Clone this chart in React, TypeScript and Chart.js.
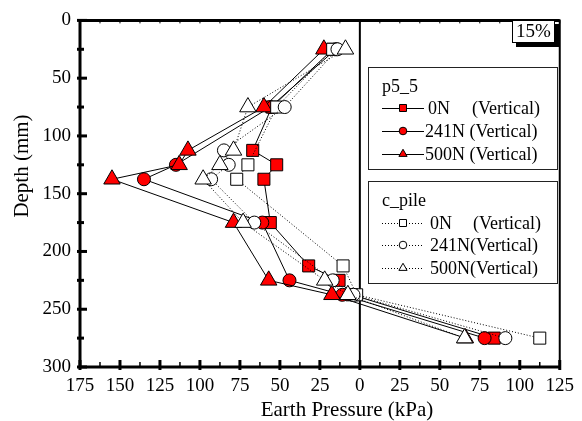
import React, { useEffect, useRef } from 'react';
import { Chart, registerables } from 'chart.js';

Chart.register(...registerables);

// ---- data (x: earth pressure kPa, negative = left side; y: depth mm) ----
const xTicks = [-175, -150, -125, -100, -75, -50, -25, 0, 25, 50, 75, 100, 125];
const yTicks = [0, 50, 100, 150, 200, 250, 300];

const p0Depth = [25, 75, 112.5, 125, 137.5, 175, 212.5, 225, 237.5, 275];
const p0Value = [-17, -55, -67, -52, -60, -56, -32, -13, -5, 84];

const p241Depth = [25, 75, 125, 137.5, 175, 225, 237.5, 275];
const p241Value = [-15, -56, -115, -135, -61, -44, -11, 78];

const p500Depth = [25, 75, 112.5, 125, 137.5, 175, 225, 237.5, 275];
const p500Value = [-22.5, -60, -107.5, -113, -155, -79, -57, -17.5, 66];

const c0Depth = [25, 75, 125, 137.5, 212.5, 237.5, 275];
const c0Value = [-17, -52, -70, -77, -10.5, -2, 112.5];

const c241Depth = [25, 75, 112.5, 125, 137.5, 175, 225, 237.5, 275];
const c241Value = [-14, -47, -85, -82, -93, -66, -17, -4, 91];

const c500Depth = [25, 75, 112.5, 125, 137.5, 175, 225, 237.5, 275];
const c500Value = [-9, -70, -79, -87.5, -98, -73, -22, -7.5, 65.5];

const FONT = '"Liberation Serif", "Times New Roman", serif';

function pts(d: number[], v: number[]) {
  return d.map((dep, i) => ({ x: v[i], y: dep }));
}

function drawMarker(ctx: CanvasRenderingContext2D, style: string, x: number, y: number, fill: string, s: number) {
  ctx.save();
  ctx.fillStyle = fill;
  ctx.strokeStyle = '#000';
  ctx.lineWidth = 1;
  ctx.setLineDash([]);
  ctx.beginPath();
  if (style === 'rect') {
    ctx.rect(x - s, y - s, 2 * s, 2 * s);
  } else if (style === 'circle') {
    ctx.arc(x, y, s, 0, Math.PI * 2);
  } else {
    const r = s * 1.25;
    ctx.moveTo(x, y - r);
    ctx.lineTo(x + r * 0.866, y + r * 0.5);
    ctx.lineTo(x - r * 0.866, y + r * 0.5);
    ctx.closePath();
  }
  ctx.fill();
  ctx.stroke();
  ctx.restore();
}

const decorPlugin = {
  id: 'decor',
  beforeDatasetsDraw(chart: any) {
    const { ctx, chartArea, scales } = chart;
    const x0 = scales.x.getPixelForValue(0);
    ctx.save();
    ctx.strokeStyle = '#000';
    ctx.lineWidth = 2;
    ctx.beginPath();
    ctx.moveTo(x0, chartArea.top);
    ctx.lineTo(x0, chartArea.bottom);
    ctx.stroke();
    ctx.restore();
  },
  afterDraw(chart: any) {
    const { ctx, chartArea, scales } = chart;
    const { left, right, top, bottom } = chartArea;
    const xs = scales.x;
    const ys = scales.y;
    ctx.save();
    ctx.strokeStyle = '#000';
    ctx.setLineDash([]);
    for (let v = -175; v <= 125; v += 12.5) {
      const px = xs.getPixelForValue(v);
      const major = Math.abs(v % 25) < 0.01;
      ctx.lineWidth = major ? 3 : 1.5;
      ctx.beginPath();
      ctx.moveTo(px, major ? bottom - 7 : bottom - 5);
      ctx.lineTo(px, major ? bottom + 3 : bottom);
      ctx.stroke();
      ctx.lineWidth = 1;
      ctx.beginPath();
      ctx.moveTo(px, top);
      ctx.lineTo(px, top + 3);
      ctx.stroke();
    }
    for (let v = 0; v <= 300; v += 25) {
      const py = ys.getPixelForValue(v);
      const major = v % 50 === 0;
      ctx.lineWidth = 3;
      ctx.beginPath();
      ctx.moveTo(left - 3, py);
      ctx.lineTo(major ? left + 7 : left + 4, py);
      ctx.stroke();
    }
    ctx.lineWidth = 3;
    ctx.beginPath();
    ctx.moveTo(right, top);
    ctx.lineTo(left, top);
    ctx.lineTo(left, bottom);
    ctx.lineTo(right, bottom);
    ctx.stroke();
    ctx.lineWidth = 2;
    ctx.beginPath();
    ctx.moveTo(right, top - 1);
    ctx.lineTo(right, bottom + 1);
    ctx.stroke();

    ctx.fillStyle = '#000';
    ctx.font = `21px ${FONT}`;
    ctx.textAlign = 'center';
    ctx.textBaseline = 'middle';
    ctx.fillText('Earth Pressure (kPa)', 347, 410);
    ctx.save();
    ctx.translate(22, 166);
    ctx.rotate(-Math.PI / 2);
    ctx.fillText('Depth (mm)', 0, 0);
    ctx.restore();

    ctx.fillStyle = '#000';
    ctx.fillRect(516, 24, 44, 23);
    ctx.fillStyle = '#fff';
    ctx.fillRect(512, 20, 43, 23);
    ctx.lineWidth = 1;
    ctx.strokeRect(512.5, 20.5, 42, 22);
    ctx.fillStyle = '#000';
    ctx.font = `19px ${FONT}`;
    ctx.fillText('15%', 533.5, 32);

    ctx.textAlign = 'left';
    ctx.font = `18px ${FONT}`;
    const boxes = [
      {
        y: 67, title: 'p5_5', dash: [] as number[], fill: '#ff0000',
        items: [
          { style: 'rect', a: '0N', ax: 428, b: '(Vertical)', bx: 472, y: 108 },
          { style: 'circle', a: '241N (Vertical)', ax: 425, b: '', bx: 0, y: 131 },
          { style: 'triangle', a: '500N (Vertical)', ax: 425, b: '', bx: 0, y: 154 },
        ],
      },
      {
        y: 181, title: 'c_pile', dash: [1, 2], fill: '#ffffff',
        items: [
          { style: 'rect', a: '0N', ax: 430, b: '(Vertical)', bx: 473, y: 223 },
          { style: 'circle', a: '241N(Vertical)', ax: 430, b: '', bx: 0, y: 245 },
          { style: 'triangle', a: '500N(Vertical)', ax: 430, b: '', bx: 0, y: 268 },
        ],
      },
    ];
    for (const bx of boxes) {
      ctx.fillStyle = '#fff';
      ctx.fillRect(368, bx.y, 189, 102);
      ctx.strokeStyle = '#222';
      ctx.lineWidth = 1;
      ctx.setLineDash([]);
      ctx.strokeRect(368.5, bx.y + 0.5, 189, 102);
      ctx.fillStyle = '#000';
      ctx.fillText(bx.title, 382, bx.y + 20);
      for (const it of bx.items) {
        ctx.strokeStyle = '#000';
        ctx.lineWidth = 1;
        ctx.setLineDash(bx.dash);
        ctx.beginPath();
        ctx.moveTo(382, it.y + 0.5);
        ctx.lineTo(424, it.y + 0.5);
        ctx.stroke();
        ctx.setLineDash([]);
        drawMarker(ctx, it.style, 403, it.y, bx.fill, it.style === 'rect' ? 3.5 : 3.8);
        ctx.fillStyle = '#000';
        ctx.fillText(it.a, it.ax, it.y + 1);
        if (it.b) ctx.fillText(it.b, it.bx, it.y + 1);
      }
    }
    ctx.restore();
  },
};

function ds(label: string, d: number[], v: number[], style: string, fill: string, dotted: boolean, order: number) {
  const radius = style === 'rect' ? 8.5 : style === 'circle' ? 6.5 : 9.5;
  return {
    label,
    data: pts(d, v),
    showLine: true,
    borderColor: '#000',
    borderWidth: 1,
    borderDash: dotted ? [1, 2] : [],
    pointStyle: style,
    pointRadius: radius,
    pointHoverRadius: radius,
    pointBackgroundColor: fill,
    pointBorderColor: '#000',
    pointBorderWidth: 1,
    order,
  };
}

export default function App() {
  const ref = useRef<HTMLCanvasElement | null>(null);
  useEffect(() => {
    let chart: Chart | null = null;
    let cancelled = false;
    const build = () => {
      if (cancelled || !ref.current) return;
      chart = new Chart(ref.current, {
        type: 'scatter',
        data: {
          datasets: [
            ds('c_pile 500N', c500Depth, c500Value, 'triangle', '#ffffff', true, 1),
            ds('c_pile 241N', c241Depth, c241Value, 'circle', '#ffffff', true, 1),
            ds('c_pile 0N', c0Depth, c0Value, 'rect', '#ffffff', true, 1),
            ds('p5_5 500N', p500Depth, p500Value, 'triangle', '#ff0000', false, 2),
            ds('p5_5 241N', p241Depth, p241Value, 'circle', '#ff0000', false, 2),
            ds('p5_5 0N', p0Depth, p0Value, 'rect', '#ff0000', false, 2),
          ] as any,
        },
        options: {
          responsive: false,
          maintainAspectRatio: false,
          animation: false,
          layout: { padding: { top: 18, right: 22, left: 0, bottom: 0 } },
          plugins: { legend: { display: false }, tooltip: { enabled: false } },
          scales: {
            x: {
              type: 'linear',
              min: -175,
              max: 125,
              afterBuildTicks: (s: any) => { s.ticks = xTicks.map((v) => ({ value: v })); },
              afterFit: (s: any) => { s.height = 54; },
              grid: { display: false, drawTicks: false },
              border: { display: false },
              ticks: {
                autoSkip: false,
                maxRotation: 0,
                padding: 8,
                color: '#000',
                font: { family: FONT, size: 19 },
                callback: (v: any) => String(Math.abs(Number(v))),
              },
            },
            y: {
              type: 'linear',
              reverse: true,
              min: 0,
              max: 300,
              afterBuildTicks: (s: any) => { s.ticks = yTicks.map((v) => ({ value: v })); },
              afterFit: (s: any) => { s.width = 80; },
              grid: { display: false, drawTicks: false },
              border: { display: false },
              ticks: {
                autoSkip: false,
                padding: 9,
                color: '#000',
                font: { family: FONT, size: 19 },
                callback: (v: any) => String(v),
              },
            },
          },
        } as any,
        plugins: [decorPlugin],
      });
    };
    const fonts: any = (document as any).fonts;
    if (fonts && fonts.load) {
      Promise.all([
        fonts.load('19px "Liberation Serif"'),
        fonts.load('21px "Liberation Serif"'),
        fonts.load('18px "Liberation Serif"'),
      ]).then(build, build);
    } else {
      build();
    }
    return () => {
      cancelled = true;
      if (chart) chart.destroy();
    };
  }, []);
  return (
    <div style={{ position: 'fixed', left: 0, top: 0, width: 582, height: 421, background: '#fff' }}>
      <canvas ref={ref} width={582} height={421} style={{ display: 'block' }} />
    </div>
  );
}
